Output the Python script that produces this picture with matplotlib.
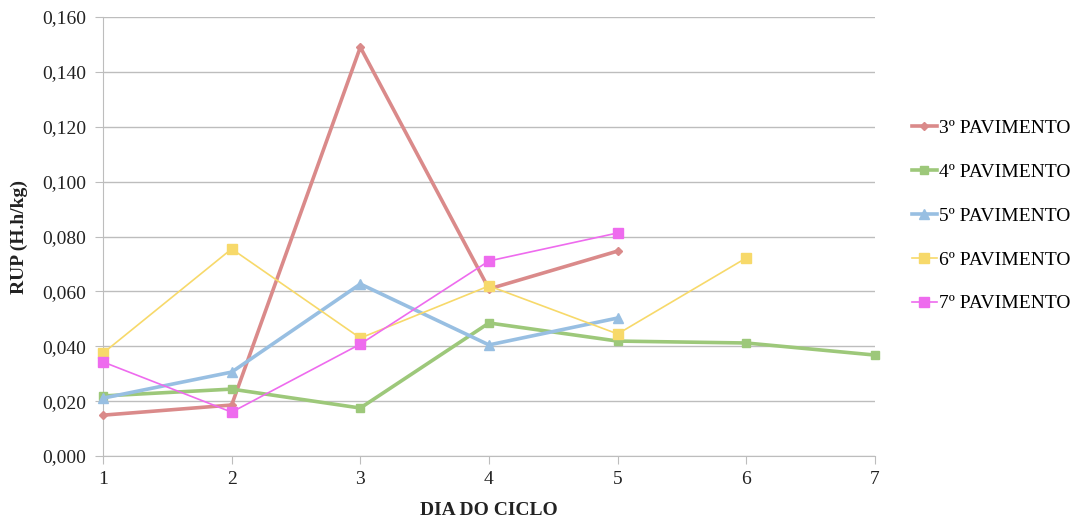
import matplotlib.pyplot as plt
from matplotlib.ticker import FuncFormatter

dias = [1, 2, 3, 4, 5, 6, 7]
pav3 = [0.0149, 0.0186, 0.1490, 0.0609, 0.0747]
pav4 = [0.0219, 0.0244, 0.0175, 0.0485, 0.0419, 0.0412, 0.0368]
pav5 = [0.0211, 0.0306, 0.0627, 0.0405, 0.0503]
pav6 = [0.0375, 0.0755, 0.0430, 0.0620, 0.0445, 0.0722]
pav7 = [0.0343, 0.0160, 0.0408, 0.0711, 0.0813]
labels = ['3º PAVIMENTO', '4º PAVIMENTO', '5º PAVIMENTO', '6º PAVIMENTO', '7º PAVIMENTO']

plt.rcParams['font.family'] = ['Liberation Serif', 'DejaVu Serif']

def main():
    fig = plt.figure(figsize=(10.74, 5.23), dpi=100)
    ax = fig.add_axes([0.0959, 0.128, 0.7188, 0.8395])

    series = [
        (pav3, '#DA8A8A', 'D', 2.6, 4.5),
        (pav4, '#9DC87A', 's', 2.6, 5.5),
        (pav5, '#98BFE2', '^', 2.6, 6.5),
        (pav6, '#F7D96A', 's', 1.2, 6.5),
        (pav7, '#EE6BEE', 's', 1.2, 6.5),
    ]
    for (vals, col, mk, lw, ms), lab in zip(series, labels):
        ax.plot(dias[:len(vals)], vals, color=col, marker=mk, lw=lw, ms=ms,
                label=lab, clip_on=False, zorder=3)

    ax.set_xlim(1, 7)
    ax.set_ylim(0, 0.16)
    ax.set_xticks(dias)
    ax.set_yticks([i * 0.02 for i in range(9)])
    ax.yaxis.set_major_formatter(FuncFormatter(lambda v, p: f'{v:.3f}'.replace('.', ',')))
    ax.grid(True, axis='y', color='#BDBDBD', lw=1)
    ax.set_axisbelow(True)
    for s in ['top', 'right']:
        ax.spines[s].set_visible(False)
    for s in ['left', 'bottom']:
        ax.spines[s].set_color('#BDBDBD')
    ax.tick_params(axis='both', colors='#BDBDBD', labelcolor='#222222', labelsize=14, length=6)
    ax.tick_params(axis='y', pad=6)
    ax.tick_params(axis='x', pad=5)

    ax.set_xlabel('DIA DO CICLO', fontsize=14, fontweight='bold', labelpad=10, color='#222222')
    ax.set_ylabel('RUP (H.h/kg)', fontsize=14, fontweight='bold', labelpad=10, color='#222222')

    ax.legend(loc='center left', bbox_to_anchor=(1.035, 0.547), frameon=False,
              fontsize=14, handlelength=1.3, handletextpad=0.12, labelspacing=1.35,
              borderpad=0)

    fig.savefig('out.png', dpi=100)

if __name__ == '__main__':
    main()
